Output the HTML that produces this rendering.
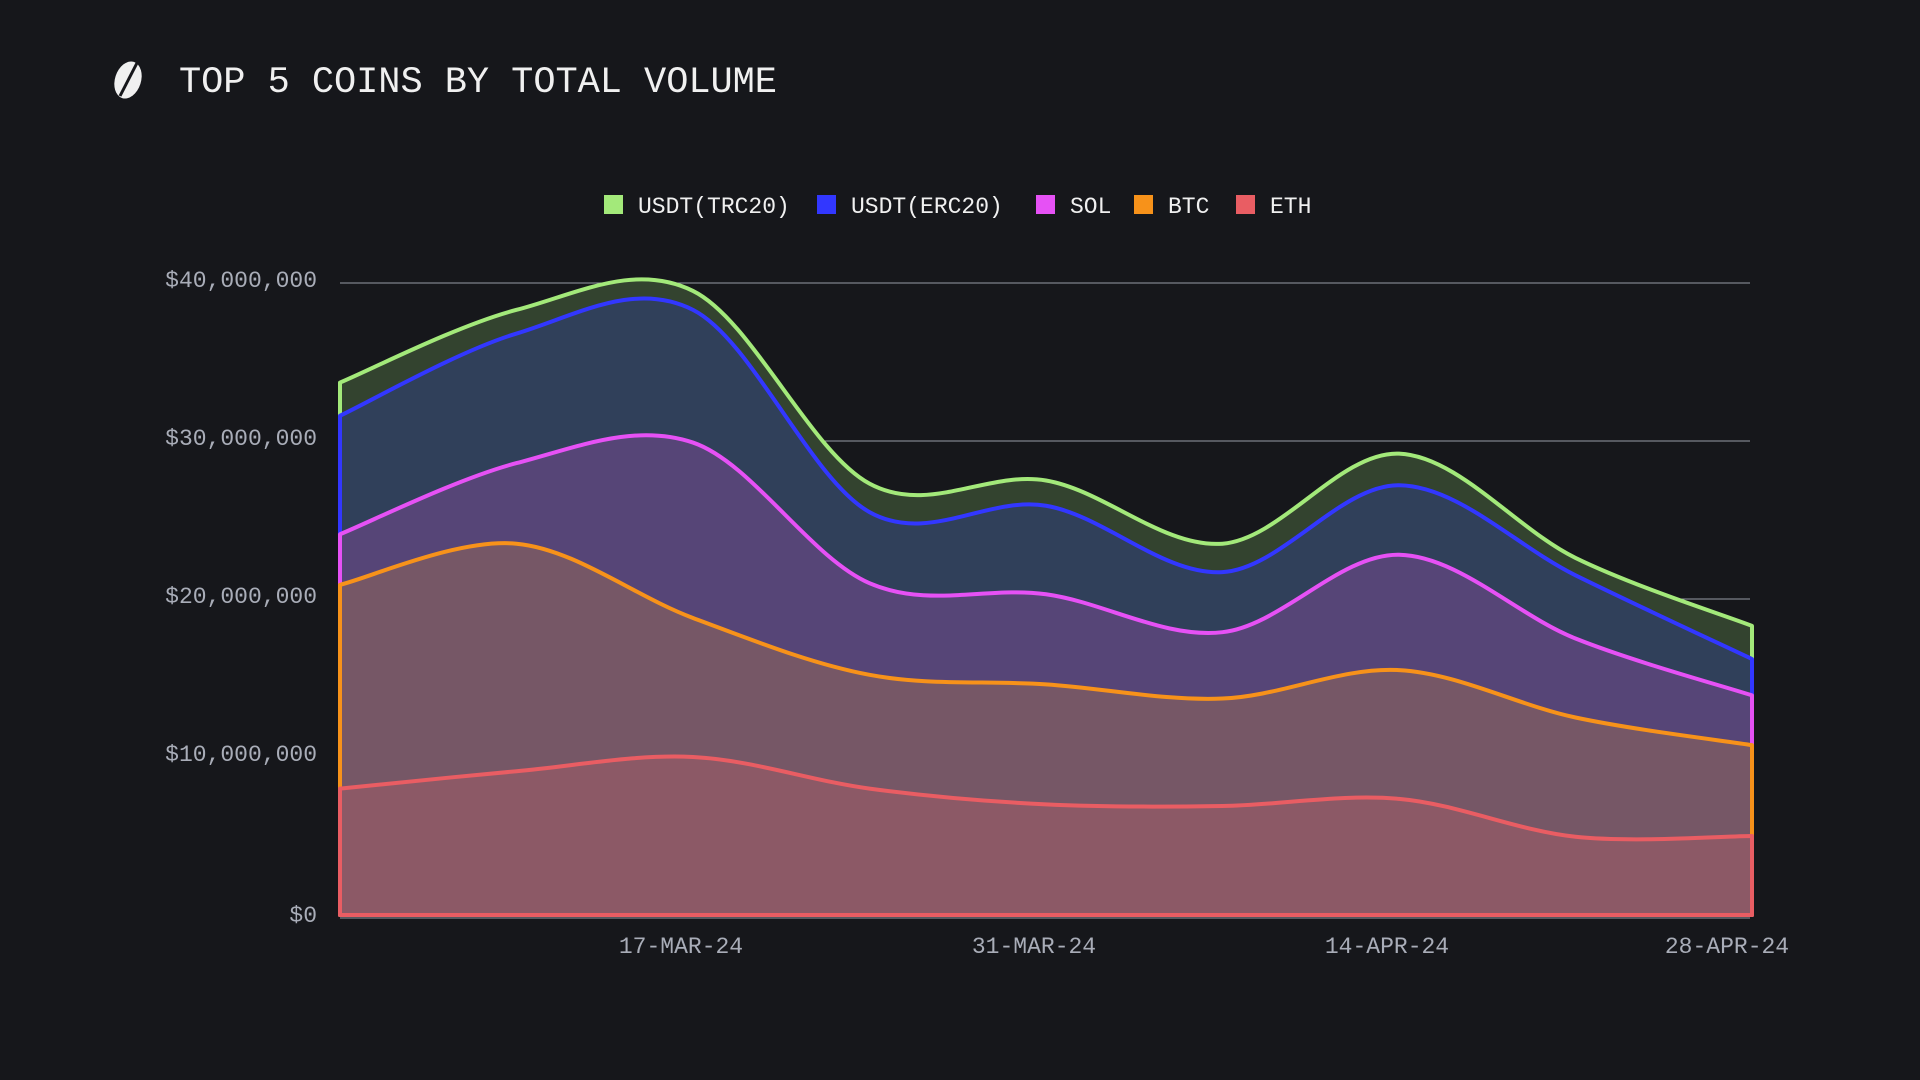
<!DOCTYPE html>
<html><head><meta charset="utf-8"><style>
html,body{margin:0;padding:0;background:#16171b;width:1920px;height:1080px;overflow:hidden}
svg{display:block}
text{font-family:"Liberation Mono",monospace}
</style></head><body>
<svg id="chart" width="1920" height="1080">
  <g>
    <ellipse cx="128" cy="80" rx="13" ry="19" transform="rotate(18 128 80)" fill="#f0f0f0"/>
    <line x1="120" y1="96" x2="137" y2="63" stroke="#16171b" stroke-width="3"/>
  </g>
  <text x="179" y="92" font-size="37" fill="#f0f0f0" textLength="598">TOP 5 COINS BY TOTAL VOLUME</text>
  <g id="legend"></g>
  <g id="grid"></g>
  <g id="areas"></g>
  <g id="yaxis"></g>
  <g id="xaxis"></g>
</svg>
<script>
const dates = ["03-MAR-24","10-MAR-24","17-MAR-24","24-MAR-24","31-MAR-24","07-APR-24","14-APR-24","21-APR-24","28-APR-24"];
const seriesNames = ["USDT(TRC20)","USDT(ERC20)","SOL","BTC","ETH"];
const eth = [8.0,9.1,10.0,8.0,7.0,6.9,7.35,4.95,5.0];
const btc = [12.9,14.4,8.8,7.2,7.6,6.8,8.15,7.55,5.75];
const sol = [3.2,5.1,11.1,5.8,5.7,4.2,7.3,5.0,3.15];
const erc = [7.5,8.2,8.4,4.5,5.6,3.8,4.4,4.0,2.3];
const trc = [2.1,1.5,1.2,1.8,1.6,1.8,2.0,1.1,2.1];
const yTicks = [0,10,20,30,40];
const yTickLabels = ["$0","$10,000,000","$20,000,000","$30,000,000","$40,000,000"];
const xTickLabels = ["17-MAR-24","31-MAR-24","14-APR-24","28-APR-24"];
const xTickIdx = [2,4,6,8];

const NS="http://www.w3.org/2000/svg";
const X0=340,X1=1752,Y0=915,Y40=283;
const xs=i=>X0+(X1-X0)*i/(dates.length-1);
const ys=v=>Y0-(Y0-Y40)*v/40;
function mk(t,a,p){const e=document.createElementNS(NS,t);for(const k in a)e.setAttribute(k,a[k]);p.appendChild(e);return e;}

yTicks.forEach((t,i)=>{
  const gy = t===0?918:ys(t);
  const l=mk('line',{x1:340,x2:1750,y1:gy,y2:gy,stroke:'#b8bcc8','stroke-width':1,opacity:0.8},document.getElementById('grid'));
  
  
  const tx=mk('text',{x:317,y:gy+4,'text-anchor':'end','font-size':23,fill:'#a9adb8'},document.getElementById('yaxis'));
  tx.textContent=yTickLabels[i];
  
  
});
xTickLabels.forEach((s,i)=>{
  let cx=xs(xTickIdx[i])-12; if(i===xTickLabels.length-1) cx=1727;
  const tx=mk('text',{x:cx,y:953,'text-anchor':'middle','font-size':23,fill:'#a9adb8'},document.getElementById('xaxis'));
  tx.textContent=s;
  
  
});

// catmull-rom path
function curve(pts){
  const n=pts.length;
  let s='M'+pts[0][0]+','+pts[0][1];
  for(let i=0;i<n-1;i++){
    const p0=pts[Math.max(0,i-1)],p1=pts[i],p2=pts[i+1],p3=pts[Math.min(n-1,i+2)];
    const c1x=p1[0]+(p2[0]-p0[0])/6,c1y=p1[1]+(p2[1]-p0[1])/6;
    const c2x=p2[0]-(p3[0]-p1[0])/6,c2y=p2[1]-(p3[1]-p1[1])/6;
    s+=' C'+c1x+','+c1y+' '+c2x+','+c2y+' '+p2[0]+','+p2[1];
  }
  return s;
}
const layers=[eth,btc,sol,erc,trc];
const cum=[];let acc=eth.map(()=>0);
layers.forEach(a=>{acc=acc.map((v,i)=>v+a[i]);cum.push(acc.slice());});
const fills=['#8c5966','#765766','#564577','#30405a','#33432f'];
const strokes=['#e95d63','#f7921a','#e651f5','#3237ff','#a3e97a'];
const keys=['eth','btc','sol','usdt-erc20','usdt-trc20'];
const g=document.getElementById('areas');
for(let k=4;k>=0;k--){
  const pts=cum[k].map((v,i)=>[xs(i),ys(v)]);
  const top=curve(pts);
  const p=mk('path',{d:top+' L'+X1+','+Y0+' L'+X0+','+Y0+' Z',fill:fills[k],stroke:strokes[k],'stroke-width':4,'stroke-linejoin':'round'},g);
  
  
}
const lx=[604,817,1036,1134,1236];
const legendColors=['#a3e97a','#3237ff','#e651f5','#f7921a','#e95d63'];
const lg=document.getElementById('legend');
seriesNames.forEach((s,i)=>{
  const r=mk('rect',{x:lx[i],y:195,width:19,height:19,fill:legendColors[i]},lg);
  
  
  const t=mk('text',{x:lx[i]+34,y:213,'font-size':23,fill:'#f0f0f0'},lg);
  t.textContent=s;
  
  
});
</script>
</body></html>
